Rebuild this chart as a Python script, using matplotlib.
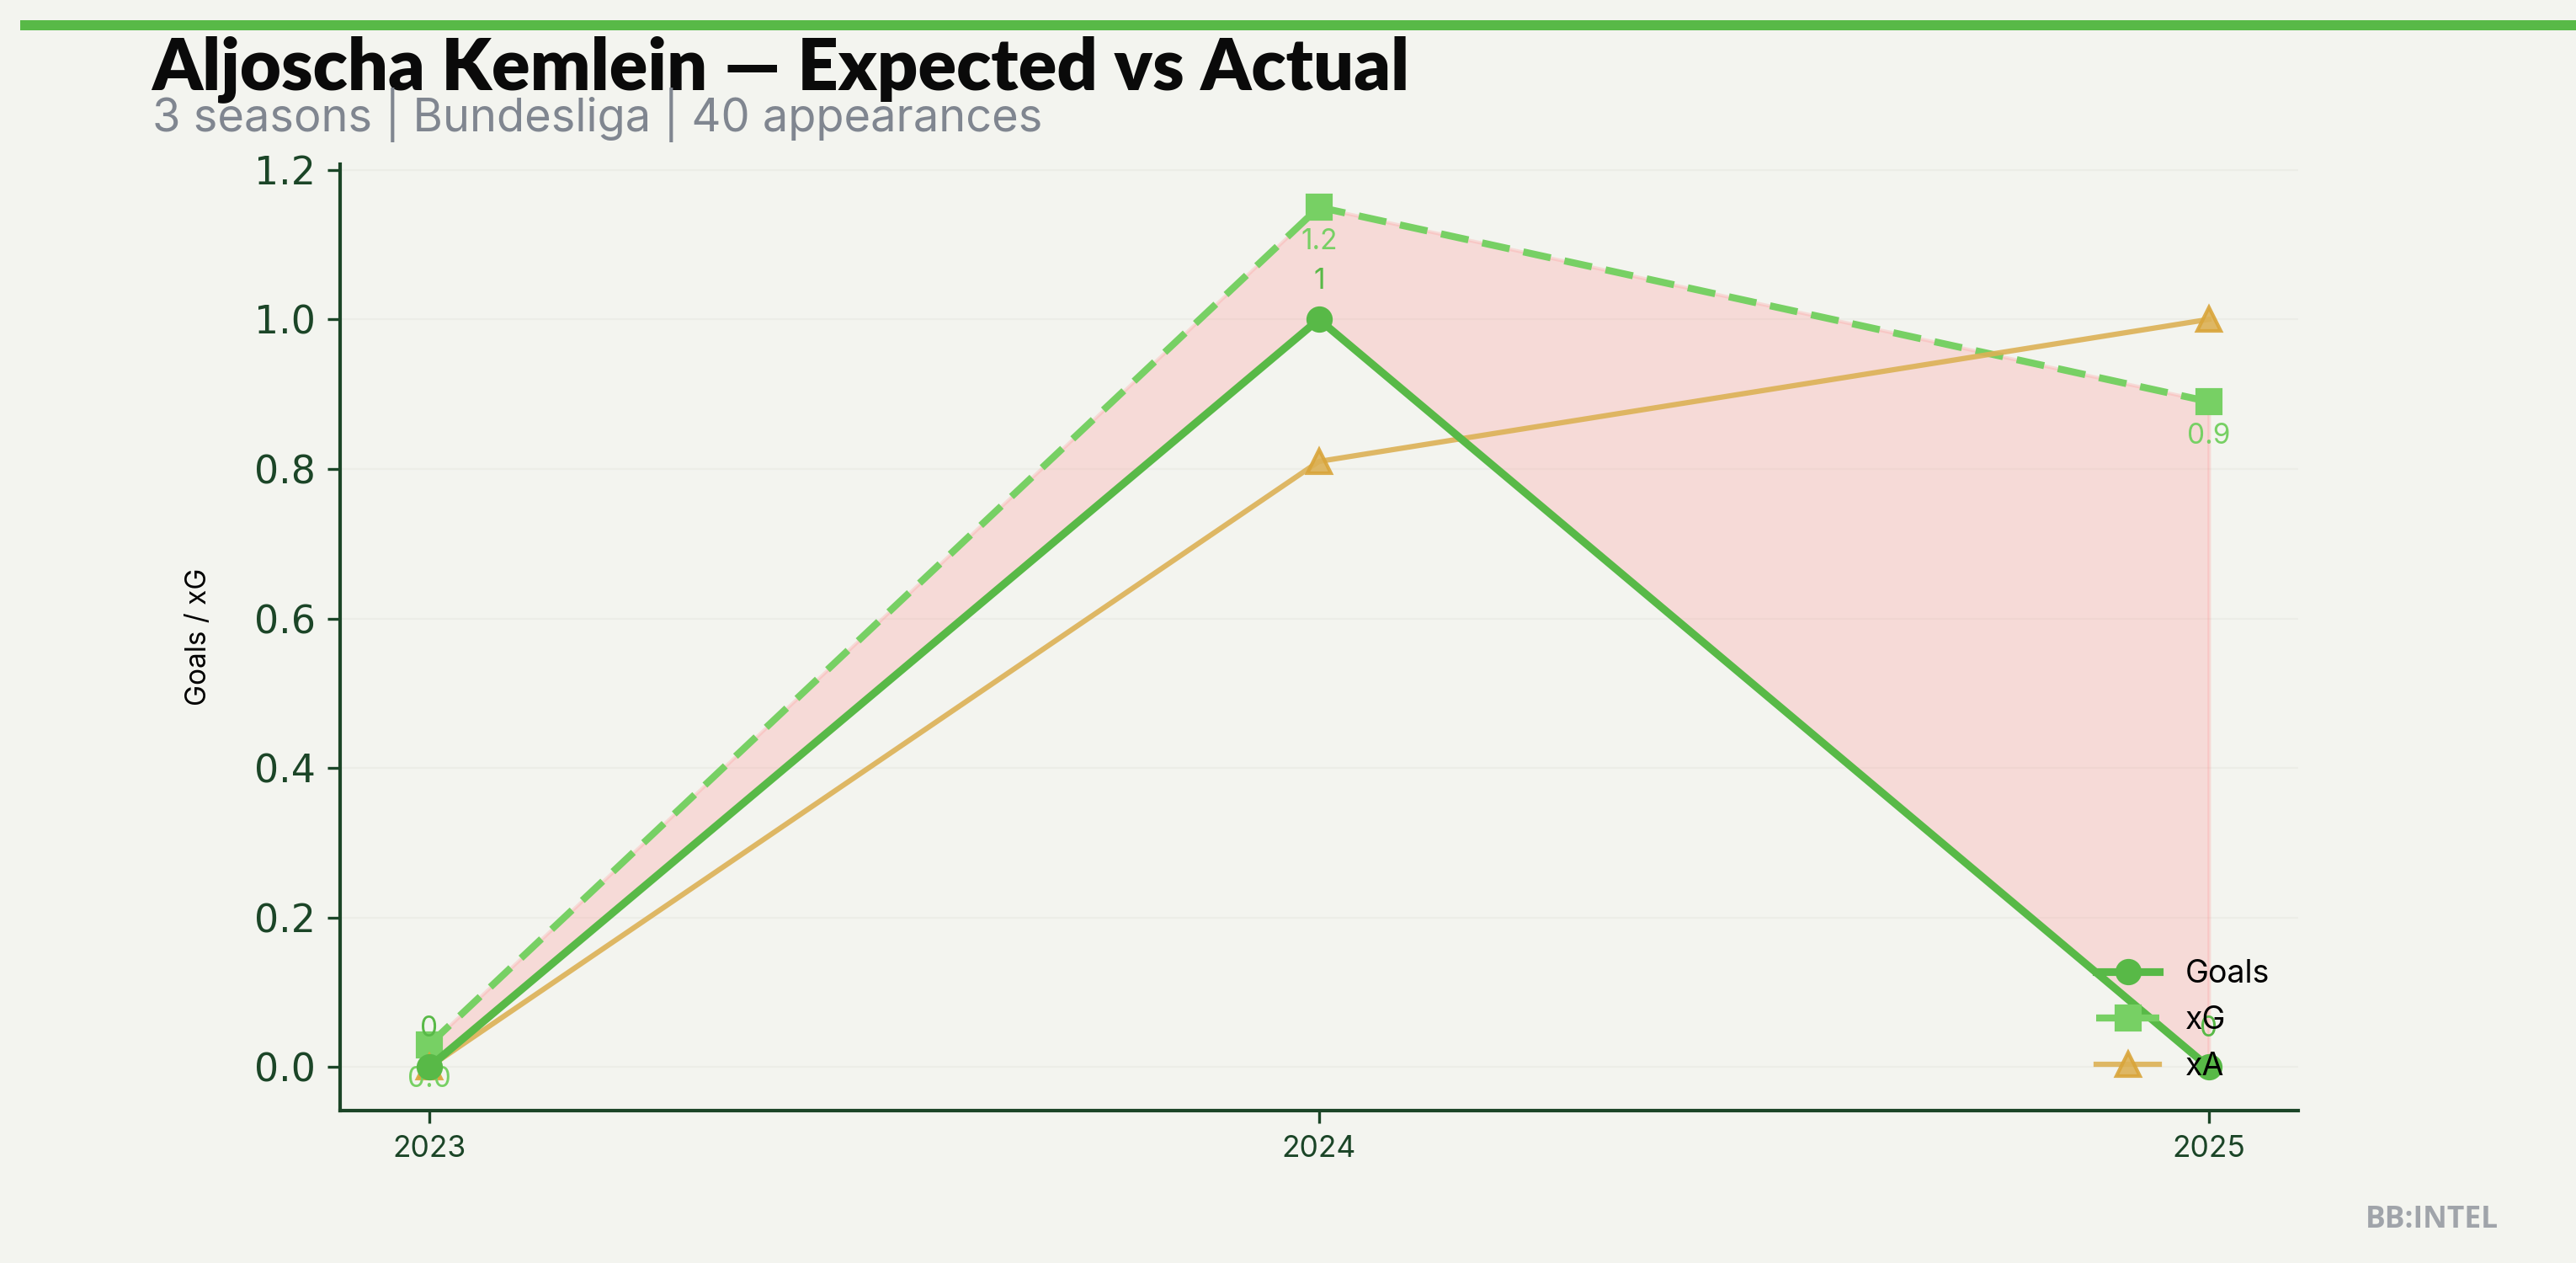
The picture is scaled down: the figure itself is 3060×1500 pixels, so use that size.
import matplotlib.pyplot as plt
from matplotlib.patches import Rectangle

seasons = [2023, 2024, 2025]
goals = [0, 1, 0]
xg = [0.03, 1.15, 0.89]
xa = [0.0, 0.81, 1.0]

bg = '#f3f4ef'
green = '#58b947'
light_green = '#77d064'
gold = '#dcb155'
dark = '#1b4527'

fig = plt.figure(figsize=(10.2, 5), dpi=300, facecolor=bg)
ax = fig.add_axes([0.132, 0.121, 0.76, 0.749])
ax.set_facecolor(bg)

# top stripe
fig.patches.append(Rectangle((0.008, 0.976), 1.0, 0.008, transform=fig.transFigure,
                             color=green, lw=0))

ax.fill_between(seasons, goals, xg, where=[x > g for x, g in zip(xg, goals)],
                color='#ff9090', alpha=0.25, lw=1)
ax.plot(seasons, goals, color=green, lw=2.2, marker='o', ms=6.5, label='Goals', zorder=4)
ax.plot(seasons, xg, color=light_green, lw=2, ls='--', dashes=(4, 2), marker='s', ms=6.5,
        label='xG', zorder=3)
ax.plot(seasons, xa, color=gold, lw=1.5, marker='^', ms=6.5, mfc=gold, mec='#d9a53a',
        alpha=0.9, label='xA', zorder=3)

for s, g in zip(seasons, goals):
    ax.annotate(f'{g:g}', (s, g), xytext=(0, 7), textcoords='offset points',
                ha='center', va='bottom', fontsize=8, color=green, family='Inter')
for s, v in zip(seasons, xg):
    # round half up so 1.15 shows as 1.2
    ax.annotate(f'{v + 1e-9:.1f}', (s, v), xytext=(0, -6), textcoords='offset points',
                ha='center', va='top', fontsize=8, color=light_green, family='Inter')

ax.set_xticks(seasons)
ax.set_xticklabels([str(s) for s in seasons], fontsize=8.5, family='Inter', color='#1a2a1a')
ax.tick_params(axis='y', labelsize=11, colors=dark, labelcolor=dark)
ax.tick_params(axis='x', colors=dark)
ax.set_ylabel('Goals / xG', fontsize=8, family='Inter', labelpad=12)
ax.grid(axis='y', color='#ecede7', lw=0.5)
ax.set_axisbelow(True)
for sp in ['top', 'right']:
    ax.spines[sp].set_visible(False)
for sp in ['left', 'bottom']:
    ax.spines[sp].set_color(dark)
    ax.spines[sp].set_linewidth(1)

ax.legend(loc='lower right', frameon=False, prop={'family': 'Inter', 'size': 9})

fig.text(0.059, 0.929, 'Aljoscha Kemlein — Expected vs Actual', fontsize=20.3,
         fontweight='heavy', family='Lato', color='#0a0a0a')
fig.text(0.059, 0.896, '3 seasons | Bundesliga | 40 appearances', fontsize=13,
         family='Inter', color='#808690')
fig.text(0.97, 0.028, 'BB:INTEL', fontsize=8.5, fontweight='bold', family='Open Sans',
         color='#a0a4aa', ha='right')

fig.savefig('out.png', dpi=300, facecolor=bg)
